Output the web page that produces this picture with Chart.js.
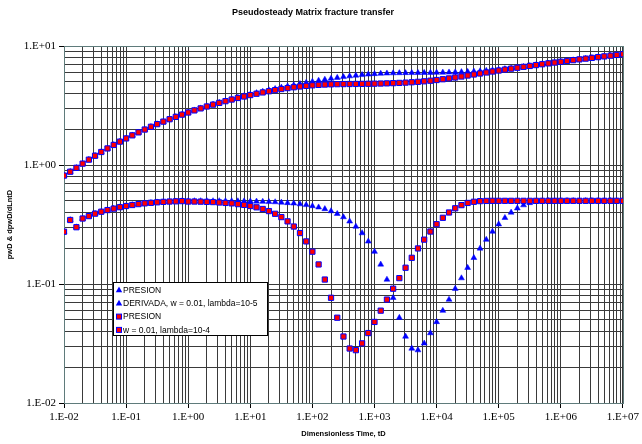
<!DOCTYPE html>
<html>
<head>
<meta charset="utf-8">
<script src="https://cdn.jsdelivr.net/npm/chart.js@4.4.1/dist/chart.umd.min.js"></script>
<style>
  html, body { margin: 0; padding: 0; background: #fff; }
</style>
</head>
<body>
<canvas id="chart" width="642" height="444"></canvas>
<script>
// dimensionless time (x)
const tD = [
  1e-2, 1.259e-2, 1.585e-2, 1.995e-2, 2.512e-2, 3.162e-2, 3.981e-2, 5.012e-2, 6.31e-2, 7.943e-2,
  1e-1, 1.259e-1, 1.585e-1, 1.995e-1, 2.512e-1, 3.162e-1, 3.981e-1, 5.012e-1, 6.31e-1, 7.943e-1,
  1, 1.259, 1.585, 1.995, 2.512, 3.162, 3.981, 5.012, 6.31, 7.943,
  10, 12.59, 15.85, 19.95, 25.12, 31.62, 39.81, 50.12, 63.1, 79.43,
  100, 125.9, 158.5, 199.5, 251.2, 316.2, 398.1, 501.2, 631, 794.3,
  1e3, 1259, 1585, 1995, 2512, 3162, 3981, 5012, 6310, 7943,
  1e4, 12590, 15850, 19950, 25120, 31620, 39810, 50120, 63100, 79430,
  1e5, 1.259e5, 1.585e5, 1.995e5, 2.512e5, 3.162e5, 3.981e5, 5.012e5, 6.31e5, 7.943e5,
  1e6, 1.259e6, 1.585e6, 1.995e6, 2.512e6, 3.162e6, 3.981e6, 5.012e6, 6.31e6, 7.943e6,
  1e7
];

// lambda = 1e-5 (blue triangles)
const pwdLam5 = [
  0.815, 0.878, 0.947, 1.027, 1.109, 1.196, 1.286, 1.378, 1.474, 1.572,
  1.672, 1.775, 1.880, 1.986, 2.094, 2.204, 2.315, 2.425, 2.537, 2.650,
  2.762, 2.881, 2.996, 3.111, 3.227, 3.341, 3.456, 3.570, 3.685, 3.799,
  3.913, 4.027, 4.140, 4.253, 4.366, 4.478, 4.589, 4.699, 4.808, 4.915,
  5.020, 5.122, 5.223, 5.319, 5.410, 5.498, 5.579, 5.653, 5.719, 5.776,
  5.824, 5.863, 5.892, 5.913, 5.928, 5.938, 5.945, 5.951, 5.958, 5.967,
  5.976, 5.989, 6.004, 6.023, 6.047, 6.075, 6.110, 6.151, 6.201, 6.260,
  6.329, 6.407, 6.494, 6.590, 6.693, 6.801, 6.913, 7.027, 7.142, 7.257,
  7.372, 7.487, 7.603, 7.718, 7.833, 7.948, 8.063, 8.178, 8.293, 8.409,
  8.524
];
const dpwdLam5 = [
  0.275, 0.345, 0.300, 0.355, 0.372, 0.390, 0.405, 0.418, 0.430, 0.442,
  0.452, 0.461, 0.469, 0.476, 0.481, 0.486, 0.490, 0.493, 0.495, 0.497,
  0.497, 0.498, 0.498, 0.498, 0.498, 0.498, 0.498, 0.497, 0.497, 0.496,
  0.495, 0.494, 0.492, 0.490, 0.488, 0.484, 0.480, 0.476, 0.469, 0.462,
  0.452, 0.441, 0.427, 0.410, 0.389, 0.365, 0.336, 0.304, 0.268, 0.228,
  0.187, 0.146, 0.109, 0.0766, 0.0521, 0.0362, 0.0287, 0.0278, 0.0317, 0.0387,
  0.0480, 0.0597, 0.0740, 0.0913, 0.112, 0.137, 0.166, 0.199, 0.236, 0.276,
  0.318, 0.360, 0.399, 0.433, 0.460, 0.480, 0.491, 0.497, 0.499, 0.500,
  0.500, 0.500, 0.500, 0.500, 0.500, 0.500, 0.500, 0.500, 0.500, 0.500,
  0.500
];

// lambda = 1e-4 (red squares)
const pwdLam4 = [
  0.815, 0.878, 0.947, 1.027, 1.109, 1.196, 1.286, 1.378, 1.474, 1.572,
  1.672, 1.775, 1.880, 1.986, 2.094, 2.204, 2.315, 2.425, 2.537, 2.650,
  2.762, 2.876, 2.989, 3.102, 3.215, 3.327, 3.438, 3.548, 3.657, 3.764,
  3.869, 3.971, 4.072, 4.168, 4.259, 4.347, 4.428, 4.502, 4.568, 4.625,
  4.673, 4.712, 4.741, 4.762, 4.777, 4.787, 4.794, 4.800, 4.807, 4.816,
  4.825, 4.838, 4.853, 4.872, 4.896, 4.924, 4.959, 5.000, 5.050, 5.109,
  5.178, 5.256, 5.343, 5.439, 5.542, 5.650, 5.762, 5.876, 5.991, 6.106,
  6.221, 6.336, 6.451, 6.566, 6.681, 6.797, 6.912, 7.027, 7.142, 7.257,
  7.372, 7.487, 7.603, 7.718, 7.833, 7.948, 8.063, 8.178, 8.293, 8.409,
  8.524
];
const dpwdLam4 = [
  0.275, 0.345, 0.300, 0.355, 0.372, 0.390, 0.405, 0.418, 0.430, 0.442,
  0.452, 0.461, 0.469, 0.476, 0.481, 0.486, 0.490, 0.493, 0.495, 0.497,
  0.493, 0.493, 0.492, 0.490, 0.488, 0.484, 0.480, 0.476, 0.469, 0.462,
  0.452, 0.441, 0.427, 0.410, 0.389, 0.365, 0.336, 0.304, 0.268, 0.228,
  0.187, 0.146, 0.109, 0.0766, 0.0521, 0.0362, 0.0287, 0.0278, 0.0317, 0.0387,
  0.0480, 0.0597, 0.0740, 0.0913, 0.112, 0.137, 0.166, 0.199, 0.236, 0.276,
  0.318, 0.360, 0.399, 0.433, 0.460, 0.480, 0.491, 0.497, 0.499, 0.500,
  0.500, 0.500, 0.500, 0.500, 0.500, 0.500, 0.500, 0.500, 0.500, 0.500,
  0.500, 0.500, 0.500, 0.500, 0.500, 0.500, 0.500, 0.500, 0.500, 0.500,
  0.500
];

const seriesLabels = [
  'PRESION',
  'DERIVADA, w = 0.01, lambda=10-5',
  'PRESION',
  'w = 0.01, lambda=10-4'
];
const xTickLabels = ['1.E-02', '1.E-01', '1.E+00', '1.E+01', '1.E+02', '1.E+03', '1.E+04', '1.E+05', '1.E+06', '1.E+07'];
const yTickLabels = ['1.E-02', '1.E-01', '1.E+00', '1.E+01'];

const BLUE = '#0000ff';
const RED = '#ff0000';

function pts(ys) {
  return tD.map((t, i) => ({ x: t, y: ys[i] }));
}

function isDecade(v) {
  const e = Math.log10(v);
  return Math.abs(e - Math.round(e)) < 1e-6;
}

// 1..9 x 10^n grid, so every minor line is there (no 1.5 steps)
function logTicks(scale) {
  const lo = Math.round(Math.log10(scale.min));
  const hi = Math.round(Math.log10(scale.max));
  const ticks = [];
  for (let e = lo; e < hi; e++) {
    for (let m = 1; m <= 9; m++) ticks.push({ value: parseFloat(m + 'e' + e) });
  }
  ticks.push({ value: parseFloat('1e' + hi) });
  scale.ticks = ticks;
}

function decadeLabel(labels, firstExp) {
  return function (value) {
    if (!isDecade(value)) return '';
    return labels[Math.round(Math.log10(value)) - firstExp] || '';
  };
}

const triangle = { pointStyle: 'triangle', pointRadius: 3.4, backgroundColor: BLUE, borderColor: BLUE, borderWidth: 0.5 };
const square = { pointStyle: 'rect', pointRadius: 3.7, backgroundColor: RED, borderColor: BLUE, borderWidth: 1 };

// frame round the plot area, under the markers
const plotFrame = {
  id: 'plotFrame',
  beforeDatasetsDraw(chart) {
    const { ctx, chartArea: a } = chart;
    ctx.save();
    ctx.strokeStyle = '#5f7b7b';
    ctx.lineWidth = 1;
    ctx.strokeRect(Math.round(a.left) + 0.5, Math.round(a.top) + 0.5,
      Math.round(a.right - a.left), Math.round(a.bottom - a.top));
    ctx.restore();
  }
};

// boxed legend sitting inside the plot, like the original
const boxLegend = {
  id: 'boxLegend',
  afterDraw(chart) {
    const { ctx, chartArea: a } = chart;
    const x = Math.round(a.left) + 49, y = Math.round(a.top) + 236, w = 154, h = 53;
    ctx.save();
    ctx.fillStyle = '#fff';
    ctx.fillRect(x, y, w, h);
    ctx.strokeStyle = '#000';
    ctx.lineWidth = 1;
    ctx.strokeRect(x + 0.5, y + 0.5, w, h);
    ctx.font = '8.5px "Liberation Sans", Arial, sans-serif';
    ctx.textBaseline = 'middle';
    chart.data.datasets.forEach((ds, i) => {
      const cx = x + 6, cy = y + 8 + i * 13.3;
      if (ds.pointStyle === 'triangle') {
        ctx.fillStyle = BLUE;
        ctx.beginPath();
        ctx.moveTo(cx, cy - 3.5);
        ctx.lineTo(cx + 3.2, cy + 2.2);
        ctx.lineTo(cx - 3.2, cy + 2.2);
        ctx.closePath();
        ctx.fill();
      } else {
        ctx.fillStyle = RED;
        ctx.fillRect(cx - 2.5, cy - 2.5, 5, 5);
        ctx.strokeStyle = BLUE;
        ctx.strokeRect(cx - 2.5, cy - 2.5, 5, 5);
      }
      ctx.fillStyle = '#000';
      ctx.fillText(ds.label, x + 10, cy + 0.5);
    });
    ctx.restore();
  }
};

const gridStyle = {
  color: '#3a3a3a',
  lineWidth: 1,
  drawTicks: true,
  tickLength: 5,
  tickColor: (c) => (c.tick && isDecade(c.tick.value) ? '#000' : 'rgba(0,0,0,0)')
};

new Chart(document.getElementById('chart'), {
  type: 'scatter',
  data: {
    datasets: [
      Object.assign({ label: seriesLabels[0], data: pts(pwdLam5), order: 1 }, triangle),
      Object.assign({ label: seriesLabels[1], data: pts(dpwdLam5), order: 1 }, triangle),
      Object.assign({ label: seriesLabels[2], data: pts(pwdLam4), order: 0 }, square),
      Object.assign({ label: seriesLabels[3], data: pts(dpwdLam4), order: 0 }, square)
    ]
  },
  options: {
    responsive: false,
    animation: false,
    layout: { padding: { left: 0, right: 16, top: 0, bottom: 0 } },
    plugins: {
      legend: { display: false },
      tooltip: { enabled: false },
      title: {
        display: true,
        text: 'Pseudosteady Matrix fracture transfer',
        color: '#000',
        font: { family: '"Liberation Sans", Arial, sans-serif', size: 9, weight: 'bold', lineHeight: '11px' },
        padding: { top: 7, bottom: 28 }
      }
    },
    scales: {
      x: {
        type: 'logarithmic',
        min: 1e-2,
        max: 1e7,
        afterBuildTicks: logTicks,
        afterFit: (s) => { s.height = 41; },
        grid: gridStyle,
        border: { display: false },
        ticks: {
          autoSkip: false,
          maxRotation: 0,
          padding: 3,
          color: '#000',
          font: { family: '"Liberation Serif", "Times New Roman", serif', size: 11 },
          callback: decadeLabel(xTickLabels, -2)
        },
        title: {
          display: true,
          text: 'Dimensionless Time, tD',
          color: '#000',
          font: { family: '"Liberation Sans", Arial, sans-serif', size: 7.5, weight: 'bold' },
          padding: { top: 0, bottom: 6 }
        }
      },
      y: {
        type: 'logarithmic',
        min: 1e-2,
        max: 10,
        afterBuildTicks: logTicks,
        afterFit: (s) => { s.width = 64; },
        grid: gridStyle,
        border: { display: false },
        ticks: {
          autoSkip: false,
          padding: 3,
          color: '#000',
          font: { family: '"Liberation Serif", "Times New Roman", serif', size: 11 },
          callback: decadeLabel(yTickLabels, -2)
        },
        title: {
          display: true,
          text: 'pwD & dpwD/dLntD',
          color: '#000',
          font: { family: '"Liberation Sans", Arial, sans-serif', size: 7.5, weight: 'bold' },
          padding: { top: 5, bottom: 0 }
        }
      }
    }
  },
  plugins: [plotFrame, boxLegend]
});
</script>
</body>
</html>
